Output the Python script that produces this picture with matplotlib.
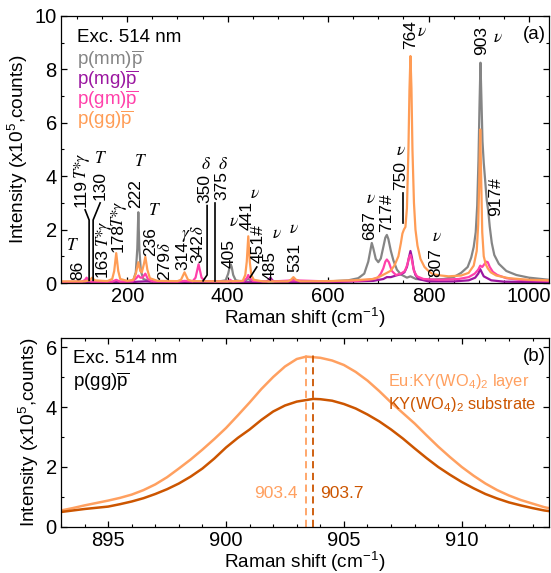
import matplotlib
matplotlib.use('Agg')
import matplotlib.pyplot as plt
from matplotlib.ticker import MultipleLocator

plt.rcParams['font.family'] = ['Liberation Sans', 'DejaVu Sans']
plt.rcParams['mathtext.fontset'] = 'custom'
plt.rcParams['mathtext.rm'] = 'Liberation Sans'
plt.rcParams['mathtext.it'] = 'Liberation Sans:italic'

# ---- panel (a) spectra, (shift, intensity x1e5)
mm_pts = [(68, 0.03), (110, 0.04), (119, 0.08), (125, 0.04), (200, 0.05), (212, 0.1), (217, 0.4),
          (220, 1.3), (222, 2.65), (224, 1.3), (227, 0.45), (232, 0.15), (245, 0.06), (300, 0.04),
          (380, 0.05), (396, 0.1), (401, 0.35), (404, 0.6), (406, 0.7), (408, 0.6), (411, 0.3),
          (416, 0.1), (430, 0.05), (441, 0.15), (450, 0.05), (520, 0.05), (526, 0.1), (531, 0.17),
          (536, 0.1), (545, 0.05), (600, 0.06), (640, 0.1), (660, 0.18), (672, 0.35), (680, 0.8),
          (684, 1.2), (687, 1.5), (690, 1.3), (695, 0.9), (700, 0.78), (705, 0.92), (710, 1.35),
          (714, 1.7), (717, 1.8), (720, 1.65), (725, 1.2), (730, 0.85), (737, 0.5), (745, 0.32),
          (757, 0.2), (764, 0.25), (775, 0.15), (800, 0.12), (830, 0.15), (850, 0.22), (865, 0.38),
          (878, 0.6), (885, 0.95), (890, 1.35), (894, 1.9), (897, 2.9), (899.5, 4.6), (901.5, 6.6),
          (903.5, 8.25), (905.5, 6.8), (907.5, 5.3), (910, 4.5), (913, 3.8), (916, 3.1), (919, 2.7),
          (922, 2.1), (926, 1.5), (931, 1.05), (940, 0.72), (955, 0.45), (975, 0.3), (1000, 0.2),
          (1040, 0.12)]

mg_pts = [(68, 0.02), (200, 0.02), (222, 0.05), (236, 0.06), (300, 0.02), (476, 0.03), (481, 0.1),
          (485, 0.2), (489, 0.1), (495, 0.03), (600, 0.03), (690, 0.08), (710, 0.15), (717, 0.22),
          (725, 0.22), (735, 0.28), (745, 0.33), (752, 0.4), (757, 0.6), (761, 0.95), (764, 1.2),
          (767, 0.95), (770, 0.55), (774, 0.3), (780, 0.15), (800, 0.06), (850, 0.06), (880, 0.1),
          (893, 0.2), (899, 0.35), (903, 0.52), (906, 0.4), (910, 0.25), (917, 0.18), (925, 0.1),
          (950, 0.05), (1040, 0.03)]

gm_pts = [(68, 0.04), (110, 0.05), (116, 0.12), (119, 0.2), (122, 0.12), (128, 0.05), (170, 0.05),
          (178, 0.12), (186, 0.05), (210, 0.06), (218, 0.18), (222, 0.28), (226, 0.2), (230, 0.2),
          (236, 0.35), (241, 0.15), (250, 0.06), (300, 0.05), (314, 0.08), (330, 0.06), (336, 0.2),
          (339, 0.45), (342, 0.7), (345, 0.45), (348, 0.2), (355, 0.07), (400, 0.05), (405, 0.12),
          (410, 0.05), (432, 0.07), (438, 0.18), (441, 0.3), (444, 0.18), (450, 0.08), (480, 0.06),
          (485, 0.12), (490, 0.06), (531, 0.1), (600, 0.06), (660, 0.08), (680, 0.12), (698, 0.18),
          (705, 0.35), (710, 0.55), (714, 0.8), (717, 0.88), (721, 0.78), (727, 0.45), (735, 0.3),
          (745, 0.35), (753, 0.45), (758, 0.7), (761, 0.95), (764, 1.05), (767, 0.85), (771, 0.45),
          (777, 0.25), (790, 0.15), (820, 0.12), (860, 0.15), (880, 0.22), (892, 0.35), (899, 0.5),
          (903, 0.65), (907, 0.6), (911, 0.7), (915, 0.8), (918, 0.78), (922, 0.6), (928, 0.42),
          (937, 0.3), (955, 0.18), (980, 0.12), (1040, 0.08)]

gg_pts = [(68, 0.06), (115, 0.06), (125, 0.1), (130, 0.2), (135, 0.1), (160, 0.07), (170, 0.15),
          (174, 0.45), (178, 1.12), (182, 0.45), (186, 0.15), (200, 0.08), (212, 0.12), (217, 0.35),
          (222, 0.78), (226, 0.45), (229, 0.4), (233, 0.7), (236, 0.98), (240, 0.5), (245, 0.18),
          (260, 0.08), (300, 0.07), (307, 0.12), (311, 0.28), (314, 0.4), (317, 0.28), (321, 0.12),
          (330, 0.07), (400, 0.06), (430, 0.08), (435, 0.3), (438, 0.8), (441, 1.75), (444, 0.8),
          (447, 0.3), (452, 0.12), (470, 0.06), (520, 0.06), (526, 0.12), (531, 0.22), (536, 0.12),
          (545, 0.06), (600, 0.07), (650, 0.1), (690, 0.15), (704, 0.25), (717, 0.38), (724, 0.45),
          (732, 0.65), (740, 1.0), (745, 1.5), (748, 1.85), (751, 2.0), (754, 2.1), (757, 2.8),
          (760, 5.0), (762, 7.2), (764, 8.5), (766, 7.3), (768, 5.0), (771, 3.0), (774, 2.0),
          (778, 1.4), (784, 0.9), (792, 0.6), (800, 0.45), (807, 0.35), (812, 0.32), (825, 0.28),
          (840, 0.25), (865, 0.28), (880, 0.38), (890, 0.65), (896, 1.2), (899, 2.2), (901, 3.8),
          (903, 5.75), (905, 3.8), (907, 1.9), (910, 1.0), (914, 0.7), (918, 0.55), (924, 0.4),
          (935, 0.28), (960, 0.18), (1000, 0.12), (1040, 0.1)]

series_names = [r'p(mm)$\overline{\mathrm{p}}$', r'p(mg)$\overline{\mathrm{p}}$',
                r'p(gm)$\overline{\mathrm{p}}$', r'p(gg)$\overline{\mathrm{p}}$']
series_colors = ['#858585', '#9b16a0', '#ff40aa', '#ff9c55']
series_pts = [mm_pts, mg_pts, gm_pts, gg_pts]

# peak labels: text, x, bottom y (rotated)
peak_labels = [('86', 101, 0.1), ('119', 108, 2.85), ('130', 146, 3.1), ('163', 150, 0.22),
               ('178', 181, 1.15), ('222', 217, 2.8), ('236', 247, 1.0), ('279', 275, 0.1),
               ('314', 311, 0.5), ('342', 341, 0.75), ('350', 355, 3.0), ('375', 389, 3.1),
               ('405', 403, 0.55), ('441', 439, 2.0), ('451#', 460, 0.75), ('485', 484, 0.1),
               ('531', 534, 0.4), ('687', 682, 1.6), ('717#', 716, 1.9), ('750', 745, 3.5),
               ('764', 765, 8.75), ('807', 815, 0.22), ('903', 905, 8.55), ('917#', 933, 2.5)]
# mode symbols: text, x, y, rotated? (rotated: y is bottom, upright: y is centre)
mode_syms = [('T', 90, 1.4, False), ('T*γ', 108, 3.95, True), ('T', 146, 4.65, False),
             ('T*γ', 150, 1.4, True), ('T*γ', 181, 2.15, True), ('T', 225, 4.55, False),
             ('T', 252, 2.7, False), ('δ', 275, 1.18, True), ('γ', 316, 1.85, False),
             ('δ', 341, 1.84, True), ('δ', 355, 4.45, False), ('δ', 389, 4.45, False),
             ('ν', 412, 2.3, False), ('ν', 453, 3.35, False), ('ν', 498, 1.85, False),
             ('ν', 531, 2.05, False), ('ν', 685, 3.15, False), ('ν', 744, 4.95, False),
             ('ν', 787, 9.4, False), ('ν', 817, 1.75, False), ('ν', 937, 9.2, False)]
# leader lines
leaders = [([116, 124, 124], [2.74, 2.36, 0.1]), ([146, 132, 132], [3.0, 2.36, 0.1]),
           ([359, 359, 351], [2.9, 0.3, 0.08]), ([375, 375], [3.0, 0.08]),
           ([458, 445], [0.6, 0.22]), ([749, 749], [3.38, 2.25])]

# ---- panel (b) 903 cm-1 band
layer_x = [893, 893.5, 894, 894.5, 895, 895.5, 896, 896.5, 897, 897.5, 898, 898.5, 899, 899.5,
           900, 900.5, 901, 901.5, 902, 902.5, 903, 903.4, 904, 904.5, 905, 905.5, 906, 906.5,
           907, 907.5, 908, 908.5, 909, 909.5, 910, 910.5, 911, 911.5, 912, 912.5, 913, 913.5, 914]
layer_y = [0.55, 0.63, 0.72, 0.8, 0.88, 0.97, 1.08, 1.23, 1.42, 1.66, 1.95, 2.25, 2.58, 2.93,
           3.3, 3.72, 4.15, 4.6, 5.0, 5.35, 5.6, 5.68, 5.64, 5.55, 5.4, 5.17, 4.88, 4.53,
           4.15, 3.8, 3.45, 3.06, 2.68, 2.33, 2.0, 1.71, 1.45, 1.23, 1.05, 0.9, 0.78, 0.66, 0.58]
subs_x = [893, 893.5, 894, 894.5, 895, 895.5, 896, 896.5, 897, 897.5, 898, 898.5, 899, 899.5,
          900, 900.5, 901, 901.5, 902, 902.5, 903, 903.7, 904, 904.5, 905, 905.5, 906, 906.5,
          907, 907.5, 908, 908.5, 909, 909.5, 910, 910.5, 911, 911.5, 912, 912.5, 913, 913.5, 914]
subs_y = [0.5, 0.55, 0.6, 0.64, 0.68, 0.76, 0.85, 0.96, 1.1, 1.26, 1.45, 1.68, 1.95, 2.28,
          2.65, 2.97, 3.25, 3.57, 3.85, 4.05, 4.18, 4.27, 4.26, 4.21, 4.1, 3.95, 3.75, 3.52,
          3.25, 2.95, 2.62, 2.3, 2.0, 1.74, 1.5, 1.29, 1.1, 0.95, 0.82, 0.72, 0.63, 0.55, 0.5]
peak_pos = [903.4, 903.7]

fig = plt.figure(figsize=(5.51, 5.73), dpi=100)
ax1 = fig.add_axes([0.1107, 0.5061, 0.8857, 0.466])
ax2 = fig.add_axes([0.1107, 0.0803, 0.8857, 0.3298])

for pts, col in zip(series_pts, series_colors):
    xs, ys = zip(*pts)
    ax1.plot(xs, ys, color=col, lw=1.6)

for txt, x, y in peak_labels:
    ax1.text(x, y, txt, rotation=90, ha='center', va='bottom', fontsize=12.5)
for s, x, y, rot in mode_syms:
    if rot:
        ax1.text(x, y, s, rotation=90, ha='center', va='bottom', fontsize=12,
                 family='STIXGeneral', style='italic')
    else:
        ax1.text(x, y, s, ha='center', va='center', fontsize=12.5,
                 family='STIXGeneral', style='italic')
for lx, ly in leaders:
    ax1.plot(lx, ly, color='black', lw=1.2)

ax1.text(0.033, 0.918, 'Exc. 514 nm', transform=ax1.transAxes, fontsize=13.5, va='center')
for i, (name, col) in enumerate(zip(series_names, series_colors)):
    ax1.text(0.033, 0.838 - 0.075 * i, name, transform=ax1.transAxes, fontsize=13.5,
             va='center', color=col)
ax1.text(0.993, 0.93, '(a)', transform=ax1.transAxes, fontsize=13.5, ha='right', va='center')

ax1.set_xlim(68, 1040)
ax1.set_ylim(0, 10)
ax1.xaxis.set_major_locator(MultipleLocator(200))
ax1.xaxis.set_minor_locator(MultipleLocator(50))
ax1.yaxis.set_major_locator(MultipleLocator(2))
ax1.yaxis.set_minor_locator(MultipleLocator(1))
ax1.set_xlabel(r'Raman shift (cm$^{-1}$)', fontsize=13.7, labelpad=0)
ax1.set_ylabel(r'Intensity (x10$^5$,counts)', fontsize=13.7, labelpad=3)

# panel b
ax2.plot(layer_x, layer_y, color='#ffa060', lw=1.8)
ax2.plot(subs_x, subs_y, color='#cc5500', lw=1.8)
ax2.vlines(peak_pos[0], 0, 5.75, colors='#ffa060', linestyles=(0, (4, 2.5)), lw=1.3)
ax2.vlines(peak_pos[1], 0, 5.75, colors='#cc5500', linestyles=(0, (4, 2.5)), lw=1.3)
ax2.text(903.05, 1.1, '903.4', color='#ffa060', fontsize=12.5, ha='right', va='center')
ax2.text(903.98, 1.1, '903.7', color='#cc5500', fontsize=12.5, ha='left', va='center')
ax2.text(0.025, 0.889, 'Exc. 514 nm', transform=ax2.transAxes, fontsize=13.5, va='center')
ax2.text(0.025, 0.767, r'p(gg)$\overline{\mathrm{p}}$', transform=ax2.transAxes,
         fontsize=13.5, va='center')
ax2.text(0.993, 0.9, '(b)', transform=ax2.transAxes, fontsize=13.5, ha='right', va='center')
ax2.text(0.67, 0.772, r'Eu:KY(WO$_4$)$_2$ layer', transform=ax2.transAxes, fontsize=11.8,
         va='center', color='#ffa060')
ax2.text(0.67, 0.646, r'KY(WO$_4$)$_2$ substrate', transform=ax2.transAxes, fontsize=11.8,
         va='center', color='#cc5500')

ax2.set_xlim(893, 913.7)
ax2.set_ylim(0, 6.3)
ax2.xaxis.set_major_locator(MultipleLocator(5))
ax2.xaxis.set_minor_locator(MultipleLocator(1))
ax2.yaxis.set_major_locator(MultipleLocator(2))
ax2.yaxis.set_minor_locator(MultipleLocator(1))
ax2.set_xlabel(r'Raman shift (cm$^{-1}$)', fontsize=13.7, labelpad=0)
ax2.set_ylabel(r'Intensity (x10$^5$,counts)', fontsize=13.7, labelpad=3)

for ax in (ax1, ax2):
    ax.tick_params(which='both', direction='in', top=True, right=True, labelsize=14.5)
    ax.tick_params(which='major', length=4.5, width=0.9, pad=3)
    ax.tick_params(which='minor', length=2.5, width=0.8)
    for sp in ax.spines.values():
        sp.set_linewidth(0.9)

fig.savefig('out.png', dpi=100)
